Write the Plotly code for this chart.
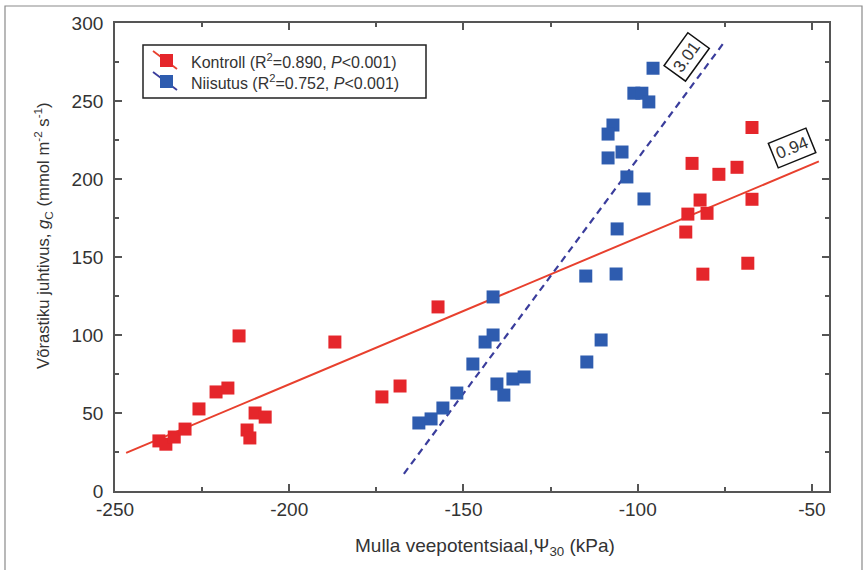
import numpy as np
import plotly.graph_objects as go

# Kontroll (control) plots: soil water potential (kPa) vs canopy conductance
kontroll_psi = [-237.4, -235.4, -233.0, -229.9, -225.9, -221.0, -217.6, -214.4,
                -212.1, -211.3, -209.8, -206.9, -186.9, -173.4, -168.2, -157.3,
                -67.2, -84.4, -76.7, -71.5, -67.2, -82.1, -85.6, -80.1,
                -86.2, -81.3, -68.4]
kontroll_gc = [32.1, 30.0, 34.6, 39.7, 52.6, 63.5, 66.0, 99.4,
               39.1, 34.0, 50.0, 47.4, 95.5, 60.3, 67.3, 118.0,
               233.0, 210.0, 203.0, 207.5, 187.0, 186.5, 177.5, 178.0,
               166.0, 139.0, 146.0]

# Niisutus (irrigated) plots
niisutus_psi = [-162.8, -159.3, -155.9, -151.9, -147.3, -143.8, -141.5, -141.5,
                -140.4, -138.4, -135.8, -132.6, -114.6, -110.5,
                -95.6, -101.1, -98.8, -96.8, -107.1, -108.5, -104.5, -108.5,
                -103.1, -98.2, -105.9, -114.9, -106.2]
niisutus_gc = [43.6, 46.2, 53.2, 62.8, 81.4, 95.5, 100.0, 124.4,
               68.6, 61.5, 71.8, 73.1, 82.7, 96.8,
               271.0, 255.0, 255.0, 249.4, 234.6, 228.8, 217.3, 213.5,
               201.3, 187.2, 168.0, 137.8, 139.1]

# Linear fits: slope, intercept and plotted x extent
kontroll_fit = {"slope": 0.94, "intercept": 256.4, "x": [-246.8, -48.0]}
niisutus_fit = {"slope": 3.01, "intercept": 514.0, "x": [-167.1, -75.0]}

x_ticks = [-250, -200, -150, -100, -50]
y_ticks = [0, 50, 100, 150, 200, 250, 300]

RED = "#e5262b"
RED_LINE = "#e8402e"
BLUE = "#2e5caf"
BLUE_LINE = "#3a3d9c"
AXIS = "#555555"
TEXT = "#333333"
FONT = "Liberation Sans, Arial, sans-serif"

fig = go.Figure()


def fit_line(fit):
    xs = np.array(fit["x"])
    return xs, fit["slope"] * xs + fit["intercept"]


kx, ky = fit_line(kontroll_fit)
nx, ny = fit_line(niisutus_fit)

fig.add_trace(go.Scatter(x=kx, y=ky, mode="lines",
                         line=dict(color=RED_LINE, width=2), showlegend=False))
fig.add_trace(go.Scatter(x=nx, y=ny, mode="lines",
                         line=dict(color=BLUE_LINE, width=2.2, dash="7px,5px"),
                         showlegend=False))
fig.add_trace(go.Scatter(x=kontroll_psi, y=kontroll_gc, mode="markers",
                         marker=dict(symbol="square", size=13, color=RED,
                                     line=dict(width=0)),
                         showlegend=False))
fig.add_trace(go.Scatter(x=niisutus_psi, y=niisutus_gc, mode="markers",
                         marker=dict(symbol="square", size=13, color=BLUE,
                                     line=dict(width=0)),
                         showlegend=False))

# plot area in pixels: x 115..829, y 23..491
L, R, T, B = 115, 829, 23, 491


def px(x):
    return (x - L) / (R - L)


def py(y):
    return (B - y) / (B - T)


shapes = []
# outer figure frame
shapes.append(dict(type="rect", xref="paper", yref="paper",
                   x0=px(5), x1=px(862), y0=py(574), y1=py(6),
                   line=dict(color="#8a8a8a", width=1.2), layer="below"))
# legend box
shapes.append(dict(type="rect", xref="paper", yref="paper",
                   x0=px(143), x1=px(426), y0=py(98), y1=py(45),
                   line=dict(color="#222222", width=1.5), fillcolor="white"))
legend_rows = [(61, RED, RED_LINE,
                "Kontroll (R<sup>2</sup>=0.890, <i>P</i>&lt;0.001)"),
               (82, BLUE, BLUE_LINE,
                "Niisutus (R<sup>2</sup>=0.752, <i>P</i>&lt;0.001)")]
annotations = []
for yc, mcol, lcol, label in legend_rows:
    shapes.append(dict(type="line", xref="paper", yref="paper",
                       x0=px(153), y0=py(yc - 10), x1=px(177), y1=py(yc + 8),
                       line=dict(color=lcol, width=1.8)))
    shapes.append(dict(type="rect", xref="paper", yref="paper",
                       x0=px(160), x1=px(173), y0=py(yc + 6), y1=py(yc - 7),
                       fillcolor=mcol, line=dict(width=0)))
    annotations.append(dict(xref="paper", yref="paper", x=px(189), y=py(yc),
                            xanchor="left", yanchor="middle", text=label,
                            showarrow=False,
                            font=dict(size=16, color=TEXT, family=FONT)))

# slope labels
annotations.append(dict(x=-85.9, y=278, text="3.01", showarrow=False,
                        textangle=-54, bordercolor="#111111", borderwidth=1.5,
                        borderpad=3, bgcolor="white",
                        font=dict(size=17, color=TEXT, family=FONT)))
annotations.append(dict(x=-55.7, y=220, text="0.94", showarrow=False,
                        textangle=-22, bordercolor="#111111", borderwidth=1.5,
                        borderpad=3, bgcolor="white",
                        font=dict(size=17, color=TEXT, family=FONT)))

# axis titles
annotations.append(dict(xref="paper", yref="paper", x=px(485), y=py(547),
                        xanchor="center", yanchor="middle", showarrow=False,
                        text="Mulla veepotentsiaal,Ψ<sub>30</sub> (kPa)",
                        font=dict(size=19, color=TEXT, family=FONT)))
annotations.append(dict(xref="paper", yref="paper", x=px(43), y=py(236),
                        xanchor="center", yanchor="middle", showarrow=False,
                        textangle=-90,
                        text="Võrastiku juhtivus, <i>g</i><sub>C</sub> "
                             "(mmol m<sup>-2</sup> s<sup>-1</sup>)",
                        font=dict(size=16.7, color=TEXT, family=FONT)))

axis_common = dict(showline=True, linecolor=AXIS, linewidth=1.8, mirror="ticks",
                   ticks="inside", ticklen=7, tickwidth=1.5, tickcolor=AXIS,
                   showgrid=False, zeroline=False,
                   tickfont=dict(size=19, color=TEXT, family=FONT),
                   minor=dict(ticks="inside", ticklen=4, tickwidth=1.5,
                              tickcolor=AXIS, showgrid=False))

fig.update_xaxes(range=[-250, -45.1], tickvals=x_ticks,
                 ticktext=[str(v) for v in x_ticks],
                 minor_dtick=25, minor_tick0=-250,
                 ticklabelstandoff=0,
                 **axis_common)
fig.update_yaxes(range=[0, 300], tickvals=y_ticks,
                 ticktext=[str(v) for v in y_ticks],
                 minor_dtick=25, minor_tick0=0,
                 ticklabelstandoff=6,
                 **axis_common)

fig.update_layout(width=868, height=570,
                  margin=dict(l=L, r=868 - R, t=T, b=570 - B),
                  paper_bgcolor="white", plot_bgcolor="white",
                  shapes=shapes, annotations=annotations,
                  font=dict(family=FONT, color=TEXT))

fig.write_html("out.html")
